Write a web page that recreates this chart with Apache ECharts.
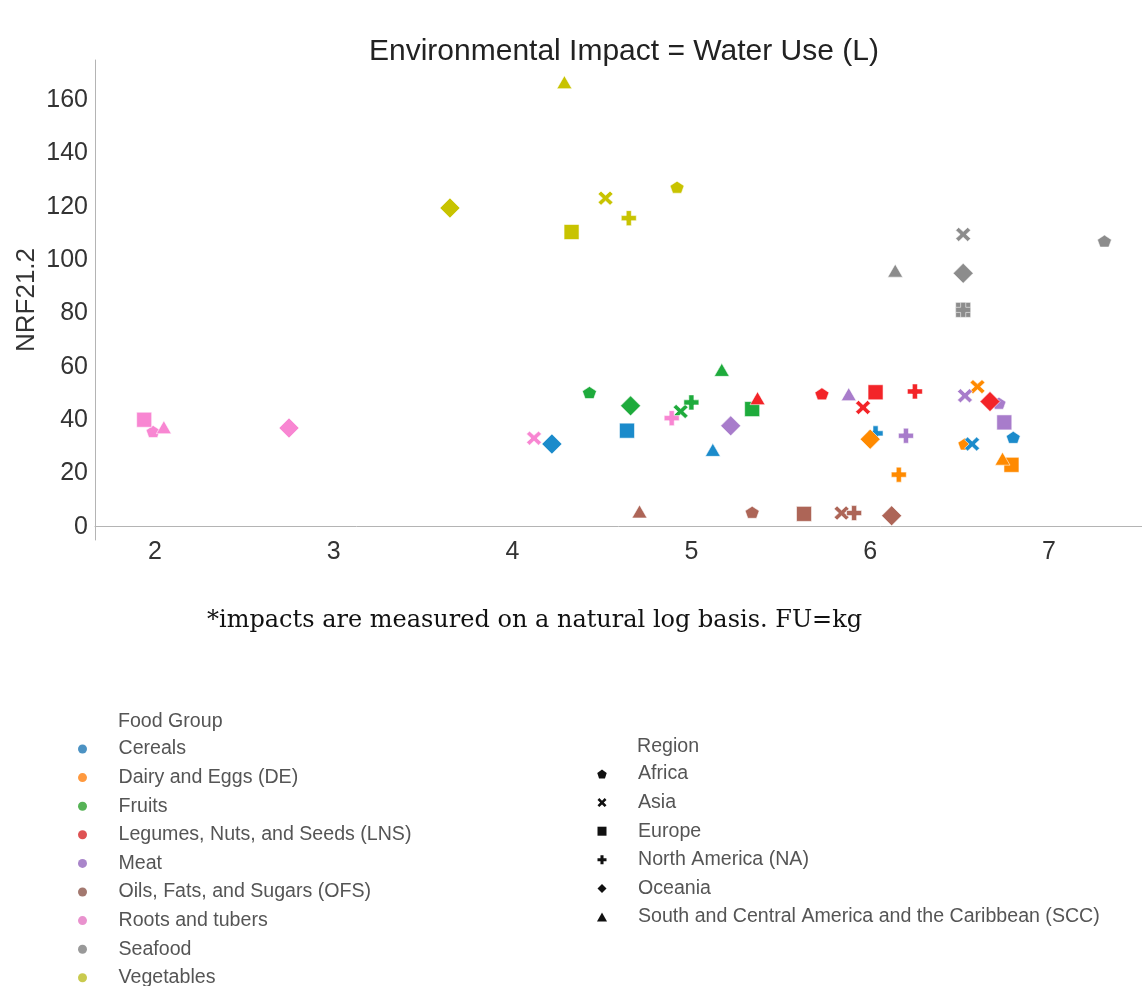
<!DOCTYPE html>
<html>
<head>
<meta charset="utf-8">
<title>Environmental Impact = Water Use (L)</title>
<script src="https://cdn.jsdelivr.net/npm/echarts@6/dist/echarts.min.js"></script>
<style>
  html, body { margin: 0; padding: 0; background: #ffffff; }
  #chart { width: 1142px; height: 986px; }
</style>
</head>
<body>
<div id="chart"></div>
<script>
// Food groups and the marker colour used for each
const foodGroups = [
  'Cereals', 'Dairy and Eggs (DE)', 'Fruits', 'Legumes, Nuts, and Seeds (LNS)',
  'Meat', 'Oils, Fats, and Sugars (OFS)', 'Roots and tubers', 'Seafood', 'Vegetables'
];
const groupColors = ['#1b8bcb', '#ff8a00', '#1eab3c', '#f32428', '#a87ccb', '#ad6557', '#f886d2', '#8c8c8c', '#c8c300'];
const legendDotColors = ['#1f77b4', '#ff7f0e', '#2ca02c', '#d62728', '#9467bd', '#8c564b', '#e377c2', '#7f7f7f', '#bcbd22'];

// Regions, each drawn with its own marker shape
const regions = ['Africa', 'Asia', 'Europe', 'North America (NA)', 'Oceania',
  'South and Central America and the Caribbean (SCC)'];

// Points per food group: [ln impact, NRF21.2, region]
const cereals = [
  [4.22, 31.0, 'Oceania'], [4.64, 36.0, 'Europe'],
  [5.12, 28.8, 'South and Central America and the Caribbean (SCC)'],
  [6.03, 35.0, 'North America (NA)'], [6.57, 31.0, 'Asia'], [6.80, 33.5, 'Africa']
];
const dairy = [
  [6.00, 32.8, 'Oceania'], [6.16, 19.5, 'North America (NA)'], [6.60, 52.5, 'Asia'],
  [6.53, 31.0, 'Africa'], [6.74, 25.5, 'South and Central America and the Caribbean (SCC)'],
  [6.79, 23.2, 'Europe']
];
const fruits = [
  [4.43, 50.3, 'Africa'], [4.66, 45.3, 'Oceania'], [4.94, 43.2, 'Asia'],
  [5.00, 46.6, 'North America (NA)'],
  [5.17, 58.8, 'South and Central America and the Caribbean (SCC)'], [5.34, 44.1, 'Europe']
];
const legumes = [
  [5.37, 48.2, 'South and Central America and the Caribbean (SCC)'], [5.73, 49.8, 'Africa'],
  [6.03, 50.4, 'Europe'], [5.96, 44.7, 'Asia'], [6.25, 50.7, 'North America (NA)'],
  [6.67, 46.9, 'Oceania']
];
const meat = [
  [5.22, 37.8, 'Oceania'], [5.88, 49.7, 'South and Central America and the Caribbean (SCC)'],
  [6.20, 34.1, 'North America (NA)'], [6.53, 49.1, 'Asia'], [6.72, 46.3, 'Africa'],
  [6.75, 39.1, 'Europe']
];
const oils = [
  [4.71, 5.7, 'South and Central America and the Caribbean (SCC)'], [5.34, 5.4, 'Africa'],
  [5.63, 4.8, 'Europe'], [5.84, 5.1, 'Asia'], [5.91, 5.1, 'North America (NA)'],
  [6.12, 4.1, 'Oceania']
];
const roots = [
  [1.94, 40.1, 'Europe'], [1.99, 35.7, 'Africa'],
  [2.05, 37.3, 'South and Central America and the Caribbean (SCC)'], [2.75, 37.0, 'Oceania'],
  [4.12, 33.2, 'Asia'], [4.89, 40.7, 'North America (NA)']
];
const seafood = [
  [6.52, 109.6, 'Asia'], [6.14, 96.0, 'South and Central America and the Caribbean (SCC)'],
  [6.52, 95.0, 'Oceania'], [6.52, 81.3, 'Europe'], [6.52, 81.3, 'North America (NA)'],
  [7.31, 107.1, 'Africa']
];
const vegetables = [
  [4.29, 166.7, 'South and Central America and the Caribbean (SCC)'], [3.65, 119.5, 'Oceania'],
  [4.33, 110.5, 'Europe'], [4.52, 123.2, 'Asia'], [4.65, 115.7, 'North America (NA)'],
  [4.92, 127.3, 'Africa']
];
const groupPoints = [cereals, dairy, fruits, legumes, meat, oils, roots, seafood, vegetables];

// Marker shapes
const PENTAGON = 'path://M5,0 L10,3.63 L8.09,9.51 L1.91,9.51 L0,3.63 Z';
const CROSS_X = 'path://M2,0 L5,3 L8,0 L10,2 L7,5 L10,8 L8,10 L5,7 L2,10 L0,8 L3,5 L0,2 Z';
const PLUS = 'path://M3.3,0 H6.7 V3.3 H10 V6.7 H6.7 V10 H3.3 V6.7 H0 V3.3 H3.3 Z';
const SQUARE = 'path://M0,0 H10 V10 H0 Z';
const DIAMOND = 'path://M5,0 L10,5 L5,10 L0,5 Z';
const TRIANGLE = 'path://M5,0 L10,9 L0,9 Z';

const regionSymbols = [PENTAGON, CROSS_X, 'rect', PLUS, 'diamond', 'triangle'];
const regionSizes = [[14, 12], [15, 14], 15, [15, 15], 20, [15, 13]];
const regionLegendIcons = [PENTAGON, CROSS_X, SQUARE, PLUS, DIAMOND, TRIANGLE];

const FONT = "'Liberation Sans', Arial, sans-serif";

// One scatter series per region (shape); each point coloured by its food group
const regionSeries = regions.map(function (region, r) {
  const data = [];
  groupPoints.forEach(function (pts, g) {
    pts.forEach(function (p) {
      if (p[2] === region) {
        data.push({ value: [p[0], p[1]], itemStyle: { color: groupColors[g] } });
      }
    });
  });
  return {
    name: region,
    type: 'scatter',
    symbol: regionSymbols[r],
    symbolSize: regionSizes[r],
    itemStyle: { color: '#111', borderColor: 'rgba(255,255,255,0.7)', borderWidth: 0.8, opacity: 1 },
    data: data
  };
});

// Empty series that carry the food-group colours into the legend
const groupSeries = foodGroups.map(function (name, g) {
  return { name: name, type: 'scatter', itemStyle: { color: groupColors[g] }, data: [] };
});

const chart = echarts.init(document.getElementById('chart'), null, { renderer: 'canvas' });
chart.setOption({
  backgroundColor: '#ffffff',
  animation: false,
  title: [
    {
      text: 'Environmental Impact = Water Use (L)',
      left: 364, top: 32,
      textStyle: { fontFamily: FONT, fontSize: 30, fontWeight: 'normal', color: '#222' }
    },
    {
      text: '*impacts are measured on a natural log basis. FU=kg',
      left: 202, top: 604,
      textStyle: { fontFamily: "'DejaVu Serif', serif", fontSize: 24, fontWeight: 'normal', color: '#111' }
    },
    {
      text: 'Food Group',
      left: 113, top: 707,
      textStyle: { fontFamily: FONT, fontSize: 19.6, fontWeight: 'normal', color: '#555' }
    },
    {
      text: 'Region',
      left: 632, top: 732,
      textStyle: { fontFamily: FONT, fontSize: 19.6, fontWeight: 'normal', color: '#555' }
    }
  ],
  grid: { left: 95, top: 60, right: 0, bottom: 446, containLabel: false, outerBoundsMode: 'none' },
  xAxis: {
    type: 'value',
    min: 1.665, max: 7.52, splitNumber: 6,
    axisLine: { show: true, lineStyle: { color: '#b4b4b4', width: 1 } },
    axisTick: { show: false },
    splitLine: { show: false },
    axisLabel: {
      fontFamily: FONT, fontSize: 25, color: '#333', margin: 0,
      formatter: function (v) { return Math.abs(v - Math.round(v)) < 1e-6 ? String(Math.round(v)) : ''; }
    }
  },
  yAxis: {
    type: 'value',
    min: -5, max: 175, splitNumber: 9,
    name: 'NRF21.2', nameLocation: 'middle', nameRotate: 90, nameGap: 55,
    nameMoveOverlap: false,
    nameTextStyle: { fontFamily: FONT, fontSize: 26, color: '#333' },
    axisLine: { show: true, lineStyle: { color: '#b4b4b4', width: 1 } },
    axisTick: { show: false },
    splitLine: { show: false },
    axisLabel: {
      fontFamily: FONT, fontSize: 25, color: '#333', margin: 7,
      formatter: function (v) { return Math.abs(v % 20) < 1e-6 ? String(v) : ''; }
    }
  },
  legend: [
    {
      orient: 'vertical', left: 73, top: 734, height: 300,
      itemWidth: 62, itemHeight: 9, itemGap: 8.6,
      icon: 'circle',
      selectedMode: false,
      textStyle: { fontFamily: FONT, fontSize: 19.6, color: '#555', lineHeight: 20 },
      data: foodGroups.map(function (name, g) {
        return { name: name, icon: 'circle', itemStyle: { color: legendDotColors[g] } };
      })
    },
    {
      orient: 'vertical', left: 592, top: 759, height: 250,
      itemWidth: 62, itemHeight: 9, itemGap: 8.6,
      selectedMode: false,
      textStyle: { fontFamily: FONT, fontSize: 19.6, color: '#555', lineHeight: 20 },
      data: regions.map(function (name, r) {
        return { name: name, icon: regionLegendIcons[r], itemStyle: { color: '#111', borderWidth: 0 } };
      })
    }
  ],
  series: regionSeries.concat(groupSeries)
});
</script>
</body>
</html>
